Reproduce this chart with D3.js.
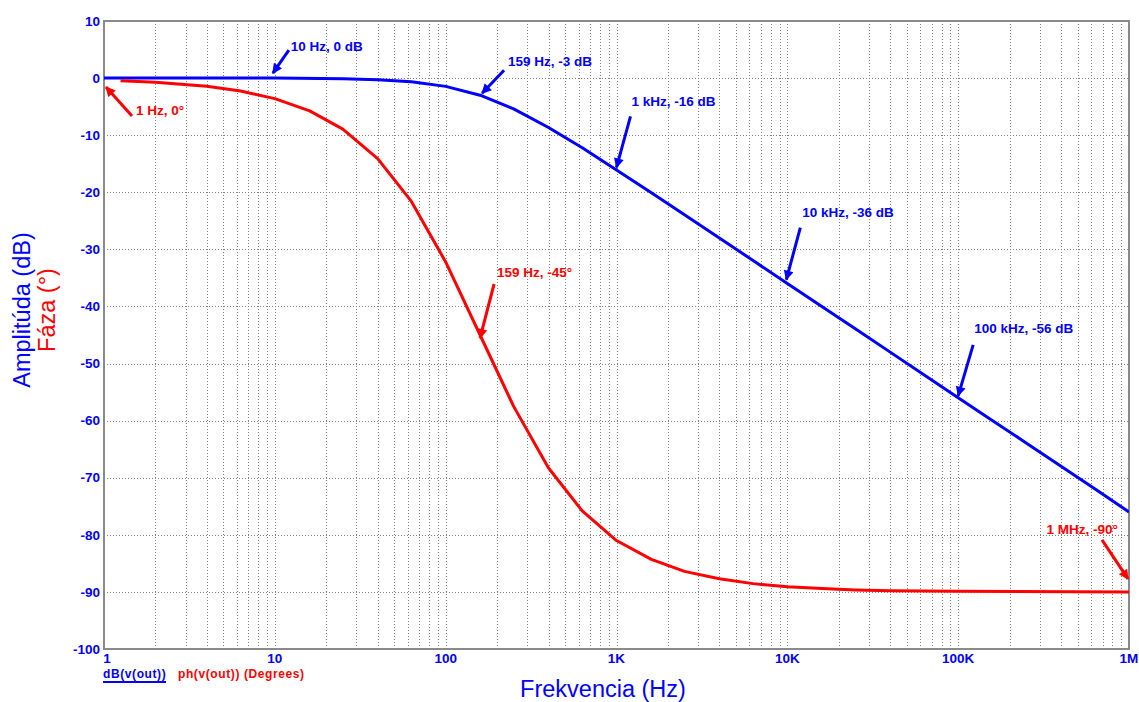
<!DOCTYPE html>
<html>
<head>
<meta charset="utf-8">
<script src="https://cdn.jsdelivr.net/npm/d3@7"></script>
<style>
  body { margin: 0; background: #fff; }
  text { font-family: "Liberation Sans", Arial, sans-serif; }
</style>
</head>
<body>
<svg id="chart" width="1139" height="702"></svg>
<script>
// values
var magFreq = [1, 10, 25, 40, 63, 100, 159, 250, 400, 630, 1000, 1600, 2500, 4000, 6300,
  10000, 16000, 25000, 40000, 63000, 100000, 160000, 250000, 400000, 630000, 1000000];
var magDb = [0, 0, -0.1, -0.27, -0.63, -1.45, -3.0, -5.4, -8.65, -12.2, -16.1, -20.1, -23.95, -28.0, -31.95,
  -36.0, -40.05, -43.9, -48.0, -51.95, -56.0, -60.05, -63.9, -68.0, -71.95, -76.0];

var phFreq = [1.25, 2, 4, 6.3, 10, 16, 25, 40, 63, 100, 159, 250, 400, 630, 1000, 1600, 2500,
  4000, 6300, 10000, 16000, 25000, 40000, 63000, 100000, 1000000];
var phDeg = [-0.45, -0.72, -1.44, -2.27, -3.6, -5.75, -8.95, -14.1, -21.6, -32.2, -45.0, -57.5, -68.3, -75.8, -81.0, -84.3, -86.4,
  -87.7, -88.55, -89.1, -89.4, -89.65, -89.8, -89.85, -89.9, -90.0];

var yTicks = [10, 0, -10, -20, -30, -40, -50, -60, -70, -80, -90, -100];
var xTicks = [1, 10, 100, 1000, 10000, 100000, 1000000];
var xTickLabels = ["1", "10", "100", "1K", "10K", "100K", "1M"];

var annFreq = [10, 159, 1000, 10000, 100000, 159, 1, 1000000];
var annValue = [0, -3, -16, -36, -56, -45, 0, -90];
var annLabel = ["10 Hz, 0 dB", "159 Hz, -3 dB", "1 kHz, -16 dB", "10 kHz, -36 dB", "100 kHz, -56 dB",
  "159 Hz, -45°", "1 Hz, 0°", "1 MHz, -90°"];
var annSeries = ["mag", "mag", "mag", "mag", "mag", "ph", "ph", "ph"];

// annotation offsets in px from the data point: arrow tip, arrow start, text anchor
var annLayout = [
  {tip: [-2, -5], from: [14, -28], text: [16, -27], anchor: "start"},
  {tip: [2, -2], from: [24, -25], text: [28, -29], anchor: "start"},
  {tip: [0, -2], from: [14, -53], text: [15, -63], anchor: "start"},
  {tip: [-1, -4], from: [13, -56], text: [15, -67], anchor: "start"},
  {tip: [0, -2], from: [15, -53], text: [16, -65], anchor: "start"},
  {tip: [0, 3], from: [14, -51], text: [17, -58], anchor: "start"},
  {tip: [2, 9], from: [28, 38], text: [32, 37], anchor: "start"},
  {tip: [-1, -13], from: [-27, -52], text: [-11, -58], anchor: "end"}
];

var blue = "#0000ff", red = "#ff0000";
var plotL = 104, plotR = 1129, plotT = 21, plotB = 649;

var svg = d3.select("#chart");

var x = d3.scaleLog().domain([1, 1e6]).range([plotL, plotR]);
var y = d3.scaleLinear().domain([10, -100]).range([plotT, plotB]);

// grid
var minor = [];
for (var e = 0; e < 6; e++) {
  for (var m = 1; m <= 9; m++) minor.push(m * Math.pow(10, e));
}

var grid = svg.append("g").attr("stroke", "#808080").attr("stroke-width", 1)
  .attr("stroke-dasharray", "1,2");
grid.selectAll(".vg").data(minor.filter(function(d) { return d > 1; }))
  .enter().append("line")
  .attr("x1", function(d) { return Math.round(x(d)) + 0.5; })
  .attr("x2", function(d) { return Math.round(x(d)) + 0.5; })
  .attr("y1", plotT).attr("y2", plotB);
grid.selectAll(".hg").data(yTicks.slice(1, -1)).enter().append("line")
  .attr("x1", plotL).attr("x2", plotR)
  .attr("y1", function(d) { return Math.round(y(d)) + 0.5; })
  .attr("y2", function(d) { return Math.round(y(d)) + 0.5; });

// frame
svg.append("rect").attr("x", plotL).attr("y", plotT)
  .attr("width", plotR - plotL).attr("height", plotB - plotT)
  .attr("fill", "none").attr("stroke", "#8a8a8a").attr("stroke-width", 2);

// tick labels
svg.append("g").selectAll("text").data(yTicks).enter().append("text")
  .attr("x", 100).attr("y", function(d) { return y(d); })
  .attr("dy", "0.35em").attr("text-anchor", "end")
  .attr("fill", blue).attr("font-size", 13.5).attr("font-weight", "bold")
  .text(function(d) { return d; });

svg.append("g").selectAll("text").data(xTicks).enter().append("text")
  .attr("x", function(d) { return x(d) + (d === 1 ? 3 : 0); })
  .attr("y", 663).attr("text-anchor", "middle")
  .attr("fill", blue).attr("font-size", 13.5).attr("font-weight", "bold")
  .text(function(d, i) { return xTickLabels[i]; });

// curves
svg.append("clipPath").attr("id", "plotclip").append("rect")
  .attr("x", plotL).attr("y", plotT).attr("width", plotR - plotL).attr("height", plotB - plotT);

var line = d3.line()
  .x(function(d) { return x(d[0]); })
  .y(function(d) { return y(d[1]); });

svg.append("path")
  .datum(magFreq.map(function(f, i) { return [f, magDb[i]]; }))
  .attr("clip-path", "url(#plotclip)")
  .attr("fill", "none").attr("stroke", blue).attr("stroke-width", 3)
  .attr("stroke-linejoin", "round")
  .attr("d", line);

svg.append("path")
  .datum(phFreq.map(function(f, i) { return [f, phDeg[i]]; }))
  .attr("clip-path", "url(#plotclip)")
  .attr("fill", "none").attr("stroke", red).attr("stroke-width", 3)
  .attr("stroke-linejoin", "round")
  .attr("d", line);

// arrow markers
var defs = svg.append("defs");
[["mag", blue], ["ph", red]].forEach(function(p) {
  defs.append("marker").attr("id", "arrow-" + p[0])
    .attr("viewBox", "0 0 10 10").attr("refX", 9).attr("refY", 5)
    .attr("markerUnits", "userSpaceOnUse")
    .attr("markerWidth", 12).attr("markerHeight", 10)
    .attr("orient", "auto")
    .append("path").attr("d", "M0,0 L10,5 L0,10 z").attr("fill", p[1]);
});

// annotations
annLabel.forEach(function(label, i) {
  var px = x(annFreq[i]), py = y(annValue[i]);
  var lay = annLayout[i];
  var col = annSeries[i] === "mag" ? blue : red;
  svg.append("line")
    .attr("x1", px + lay.from[0]).attr("y1", py + lay.from[1])
    .attr("x2", px + lay.tip[0]).attr("y2", py + lay.tip[1])
    .attr("stroke", col).attr("stroke-width", 3)
    .attr("marker-end", "url(#arrow-" + annSeries[i] + ")");
  svg.append("text")
    .attr("x", px + lay.text[0]).attr("y", py + lay.text[1])
    .attr("text-anchor", lay.anchor)
    .attr("fill", col).attr("font-size", 13.5).attr("font-weight", "bold")
    .text(label);
});

// axis titles
svg.append("text")
  .attr("transform", "translate(30,310) rotate(-90)")
  .attr("text-anchor", "middle").attr("fill", blue).attr("font-size", 23.5)
  .text("Amplitúda (dB)");
svg.append("text")
  .attr("transform", "translate(55,310) rotate(-90)")
  .attr("text-anchor", "middle").attr("fill", red).attr("font-size", 23.5)
  .text("Fáza (°)");
svg.append("text")
  .attr("x", 603).attr("y", 697)
  .attr("text-anchor", "middle").attr("fill", blue).attr("font-size", 23.5)
  .text("Frekvencia (Hz)");

// legend
svg.append("text").attr("x", 103).attr("y", 678)
  .attr("fill", blue).attr("font-size", 12).attr("font-weight", "bold")
  .attr("letter-spacing", 0.6)
  .text("dB(v(out))");
svg.append("line").attr("x1", 103).attr("x2", 166).attr("y1", 682).attr("y2", 682)
  .attr("stroke", blue).attr("stroke-width", 2);
svg.append("text").attr("x", 178).attr("y", 678)
  .attr("fill", red).attr("font-size", 12).attr("font-weight", "bold")
  .attr("letter-spacing", 0.6)
  .text("ph(v(out)) (Degrees)");
</script>
</body>
</html>
